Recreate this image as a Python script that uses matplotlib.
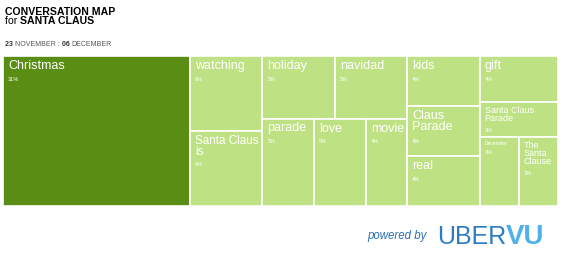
import matplotlib.pyplot as plt
from matplotlib.patches import Rectangle

plt.rcParams['font.family'] = ['Liberation Sans', 'DejaVu Sans']

# share of conversation per term (%)
terms = ['Christmas', 'watching', 'Santa Claus is', 'holiday', 'navidad',
         'parade', 'love', 'movie', 'kids', 'Claus Parade', 'real',
         'gift', 'Santa Claus Parade', 'December', 'The Santa Clause']
shares = [31, 6, 6, 5, 5, 5, 5, 4, 4, 4, 4, 4, 3, 3, 3]

# how the tiles are grouped: columns -> rows -> tiles side by side
columns = [
    [['Christmas']],
    [['watching'], ['Santa Claus is']],
    [['holiday', 'navidad'], ['parade', 'love', 'movie']],
    [['kids'], ['Claus Parade'], ['real']],
    [['gift'], ['Santa Claus Parade'], ['December', 'The Santa Clause']],
]

# label text per tile (line breaks) and font size of the term
label_text = {'Santa Claus is': 'Santa Claus\nis', 'Claus Parade': 'Claus\nParade',
              'Santa Claus Parade': 'Santa Claus\nParade',
              'The Santa Clause': 'The\nSanta\nClause'}
label_size = {'Santa Claus is': 8.4, 'Santa Claus Parade': 6.5,
              'The Santa Clause': 6.5, 'December': 3.5}

dark = '#5a8d14'
light = '#bee283'

value = dict(zip(terms, shares))
total = sum(shares)

fig = plt.figure(figsize=(5.63, 2.54), dpi=100)
W, H = 563, 254
ax = fig.add_axes([3 / W, (H - 206) / H, 555 / W, 150 / H])
ax.set_xlim(0, total)
ax.set_ylim(1, 0)
ax.axis('off')

# px to data units for text offsets
px_x = total / 555
px_y = 1 / 150

x0 = 0
for col in columns:
    col_sum = sum(value[t] for row in col for t in row)
    y0 = 0
    for row in col:
        row_sum = sum(value[t] for t in row)
        h = row_sum / col_sum
        xx = x0
        for t in row:
            w = value[t] / row_sum * col_sum
            color = dark if t == 'Christmas' else light
            ax.add_patch(Rectangle((xx, y0), w, h, facecolor=color,
                                   edgecolor='white', linewidth=1.2))
            txt = label_text.get(t, t)
            fs = label_size.get(t, 9)
            ax.text(xx + 5 * px_x, y0 + 4 * px_y, txt, color='white',
                    fontsize=fs, va='top', ha='left', linespacing=0.85)
            nlines = txt.count('\n') + 1
            line_px = fs * 100 / 72 * 0.95
            ax.text(xx + 5 * px_x, y0 + (9 + nlines * line_px) * px_y,
                    f'{value[t]}%', color='white', fontsize=4,
                    va='top', ha='left')
            xx += w
        y0 += h
    x0 += col_sum

renderer = fig.canvas.get_renderer()


def text_run(x, y, pieces, **kw):
    # put several styled pieces one after another on one line
    for s, style in pieces:
        t = fig.text(x / W, 1 - y / H, s, **{**kw, **style})
        x = t.get_window_extent(renderer).x1
    return x


# header
text_run(5, 15, [('CONVERSATION MAP', {'fontweight': 'bold'})],
         fontsize=7.6, va='baseline', color='black')
text_run(5, 24, [('for ', {}), ('SANTA CLAUS', {'fontweight': 'bold'})],
         fontsize=7.6, va='baseline', color='black')
text_run(5, 41, [('23 ', {'fontweight': 'bold', 'color': '#333333'}),
                 ('NOVEMBER : ', {'color': '#555555'}),
                 ('06 ', {'fontweight': 'bold', 'color': '#333333'}),
                 ('DECEMBER', {'color': '#555555'})],
         fontsize=5, va='top')

# footer logo
fig.text(367 / W, 1 - 236 / H, 'powered by', fontsize=8.3, style='italic',
         color='#2b6fb5', va='center')
text_run(437, 244, [('UBER', {'color': '#2b7cc4'}),
                    ('VU', {'color': '#4fb0ea', 'fontweight': 'bold',
                            'fontsize': 20})],
         fontsize=18, va='baseline')

fig.savefig('out.png', dpi=100)
